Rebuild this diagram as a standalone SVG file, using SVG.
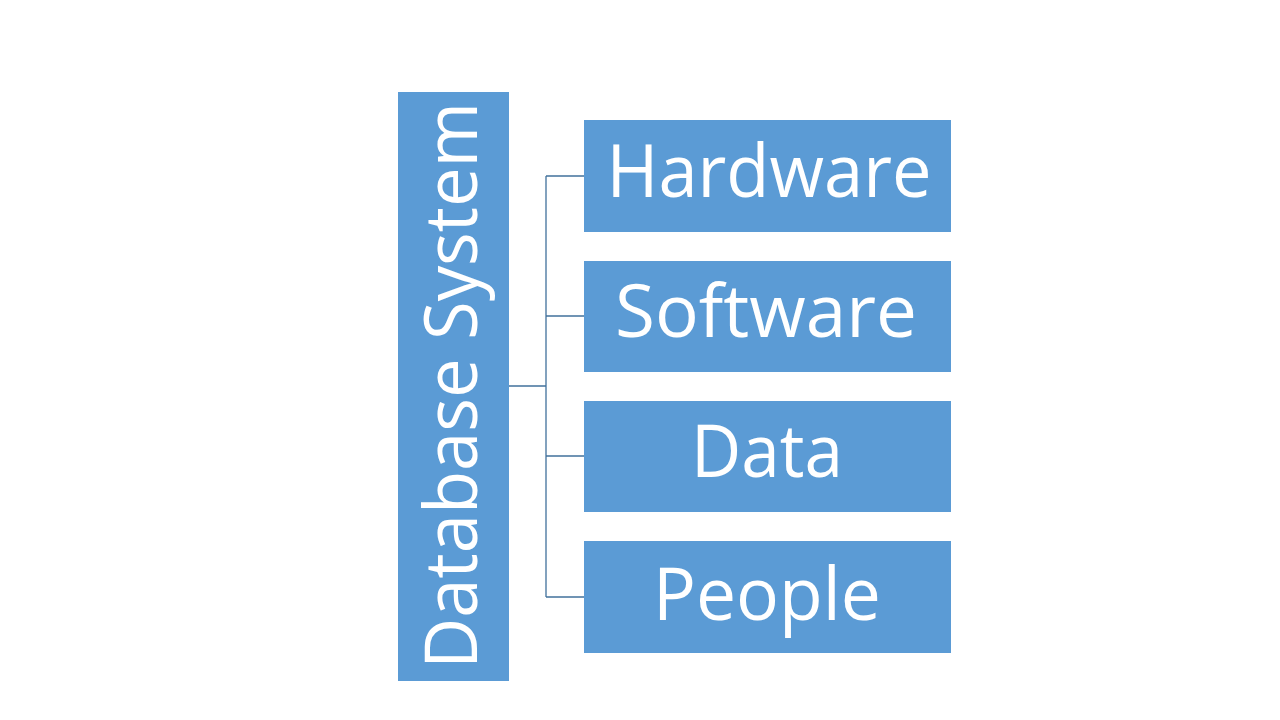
<svg xmlns="http://www.w3.org/2000/svg" width="1280" height="720" viewBox="0 0 1280 720">
<style>
.box{fill:#5B9BD5;}
.lbl{fill:#FFFFFF;font-family:"Open Sans","Liberation Sans",sans-serif;font-size:73px;text-anchor:middle;}
.conn{fill:none;stroke:#41719C;stroke-width:1.3;}
</style>
<rect width="1280" height="720" fill="#FFFFFF"/>
<g id="connectors">
<path class="conn" d="M509,386 H546 M546,176 V597 M546,176 H584 M546,316 H584 M546,456 H584 M546,597 H584"/>
</g>
<g id="database-system">
<rect class="box" x="398" y="92" width="111" height="589"/>
<text class="lbl" transform="translate(477,385.5) rotate(-90)" x="0" y="0" textLength="567" lengthAdjust="spacingAndGlyphs">Database System</text>
</g>
<g id="hardware">
<rect class="box" x="584" y="120" width="367" height="112"/>
<text class="lbl" x="769" y="197" textLength="325" lengthAdjust="spacingAndGlyphs">Hardware</text>
</g>
<g id="software">
<rect class="box" x="584" y="261" width="367" height="111"/>
<text class="lbl" x="766" y="337" textLength="302" lengthAdjust="spacingAndGlyphs">Software</text>
</g>
<g id="data">
<rect class="box" x="584" y="401" width="367" height="111"/>
<text class="lbl" x="767" y="477" textLength="152" lengthAdjust="spacingAndGlyphs">Data</text>
</g>
<g id="people">
<rect class="box" x="584" y="541" width="367" height="112"/>
<text class="lbl" x="767" y="620" textLength="228" lengthAdjust="spacingAndGlyphs">People</text>
</g>
</svg>
